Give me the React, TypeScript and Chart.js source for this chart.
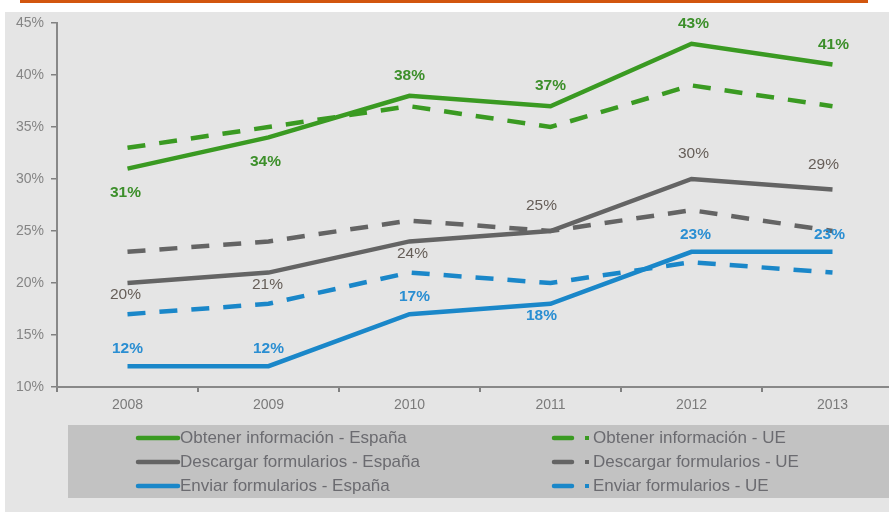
import React, { useEffect, useRef } from "react";
import { Chart, registerables } from "chart.js";

Chart.register(...registerables);

const years = ["2008", "2009", "2010", "2011", "2012", "2013"];
const obtenerEspana = [31, 34, 38, 37, 43, 41];
const obtenerUE = [33, 35, 37, 35, 39, 37];
const descargarEspana = [20, 21, 24, 25, 30, 29];
const descargarUE = [23, 24, 26, 25, 27, 25];
const enviarEspana = [12, 12, 17, 18, 23, 23];
const enviarUE = [17, 18, 21, 20, 22, 21];

const seriesNames = [
  "Obtener información - España",
  "Obtener información - UE",
  "Descargar formularios - España",
  "Descargar formularios - UE",
  "Enviar formularios - España",
  "Enviar formularios - UE",
];

// label placement for the España series: a = above, b = below
const obtenerPlacement = ["b", "b", "a", "a", "a", "a"];
const descargarPlacement = ["b", "b", "b", "a", "a", "a"];
const enviarPlacement = ["a", "a", "a", "b", "a", "a"];

const GREEN = "#3a9a22";
const GRAY = "#646464";
const BLUE = "#1a87c9";
const FONT = "'Liberation Sans', Arial, sans-serif";

type LabelCfg = {
  ds: number;
  place: string[];
  above: number;
  below: number;
  dx: number[];
  color: string;
  weight: string;
};

const labelCfgs: LabelCfg[] = [
  { ds: 0, place: obtenerPlacement, above: -20, below: 24, dx: [-2, -3, 0, 0, 2, 1], color: "#3c8f2a", weight: "bold" },
  { ds: 2, place: descargarPlacement, above: -25, below: 12, dx: [-2, -1, 3, -9, 2, -9], color: "#665e58", weight: "normal" },
  { ds: 4, place: enviarPlacement, above: -17, below: 12, dx: [0, 0, 5, -9, 4, -3], color: "#2a8ed2", weight: "bold" },
];

const bgPlugin = {
  id: "bgPanel",
  beforeDraw(chart: any) {
    const { ctx, width, height } = chart;
    ctx.save();
    ctx.fillStyle = "#ffffff";
    ctx.fillRect(0, 0, width, height);
    ctx.fillStyle = "#e5e5e5";
    ctx.fillRect(5, 12, width - 5, height - 12);
    ctx.fillStyle = "#d2560e";
    ctx.fillRect(20, 0, 848, 3);
    ctx.fillStyle = "#c2c2c2";
    ctx.fillRect(68, 425, width - 68, 73);
    ctx.restore();
  },
};

const valueLabelPlugin = {
  id: "valueLabels",
  afterDatasetsDraw(chart: any) {
    const { ctx } = chart;
    const xs = chart.scales.x;
    const ys = chart.scales.y;
    ctx.save();
    ctx.textAlign = "center";
    ctx.textBaseline = "middle";
    labelCfgs.forEach((cfg) => {
      const data = chart.data.datasets[cfg.ds].data as number[];
      ctx.fillStyle = cfg.color;
      ctx.font = `${cfg.weight} 15.5px ${FONT}`;
      data.forEach((v, i) => {
        const px = xs.getPixelForValue(i) + cfg.dx[i];
        const py = ys.getPixelForValue(v) + (cfg.place[i] === "a" ? cfg.above : cfg.below);
        ctx.fillText(`${v}%`, px, py);
      });
    });
    ctx.restore();
  },
};

const legendPlugin = {
  id: "customLegend",
  afterDraw(chart: any) {
    const { ctx } = chart;
    const rows = [438, 462, 486];
    ctx.save();
    ctx.font = `17px ${FONT}`;
    ctx.textBaseline = "middle";
    ctx.textAlign = "left";
    for (let r = 0; r < 3; r++) {
      const solid = chart.data.datasets[r * 2];
      const dashed = chart.data.datasets[r * 2 + 1];
      const y = rows[r];
      ctx.strokeStyle = solid.borderColor;
      ctx.lineWidth = 4.5;
      ctx.lineCap = "round";
      ctx.beginPath();
      ctx.moveTo(138, y);
      ctx.lineTo(178, y);
      ctx.stroke();
      ctx.fillStyle = "#6b6b70";
      ctx.fillText(solid.label, 180, y);
      ctx.strokeStyle = dashed.borderColor;
      ctx.beginPath();
      ctx.moveTo(554, y);
      ctx.lineTo(572, y);
      ctx.stroke();
      ctx.fillStyle = dashed.borderColor;
      ctx.fillRect(585, y - 2, 4, 4);
      ctx.fillStyle = "#6b6b70";
      ctx.fillText(dashed.label, 593, y);
    }
    ctx.restore();
  },
};

export default function App() {
  const ref = useRef<HTMLCanvasElement | null>(null);

  useEffect(() => {
    document.body.style.margin = "0";
    if (!ref.current) return;
    const dash = [18, 14];
    const mk = (label: string, data: number[], color: string, dashed: boolean) => ({
      label,
      data,
      borderColor: color,
      backgroundColor: color,
      borderWidth: 4.5,
      borderDash: dashed ? dash : [],
      borderCapStyle: "butt" as const,
      pointRadius: 0,
      pointHoverRadius: 0,
      tension: 0,
      fill: false,
    });
    const chart = new Chart(ref.current, {
      type: "line",
      data: {
        labels: years,
        datasets: [
          mk(seriesNames[0], obtenerEspana, GREEN, false),
          mk(seriesNames[1], obtenerUE, GREEN, true),
          mk(seriesNames[2], descargarEspana, GRAY, false),
          mk(seriesNames[3], descargarUE, GRAY, true),
          mk(seriesNames[4], enviarEspana, BLUE, false),
          mk(seriesNames[5], enviarUE, BLUE, true),
        ],
      },
      options: {
        responsive: false,
        animation: false,
        layout: { padding: { top: 23, right: 7, left: 0, bottom: 0 } },
        plugins: {
          legend: { display: false },
          tooltip: { enabled: false },
        },
        scales: {
          x: {
            offset: true,
            grid: {
              offset: true,
              drawOnChartArea: false,
              drawTicks: true,
              tickLength: 5,
              color: "#808080",
              lineWidth: 2,
            },
            border: { color: "#888888", width: 2 },
            ticks: {
              color: "#7a7a7a",
              font: { family: FONT, size: 14 },
              padding: 5,
              maxRotation: 0,
            },
            afterFit: (s: any) => {
              s.height = 125;
            },
          },
          y: {
            min: 10,
            max: 45,
            ticks: {
              stepSize: 5,
              color: "#858585",
              font: { family: FONT, size: 14 },
              padding: 7,
              callback: (v: any) => `${v}%`,
            },
            grid: {
              drawOnChartArea: false,
              drawTicks: true,
              tickLength: 6,
              color: "#808080",
              lineWidth: 1.5,
            },
            border: { color: "#888888", width: 2 },
            afterFit: (s: any) => {
              s.width = 57;
            },
          },
        },
      },
      plugins: [bgPlugin, valueLabelPlugin, legendPlugin],
    });
    return () => chart.destroy();
  }, []);

  return (
    <div style={{ width: 889, height: 512, overflow: "hidden", position: "relative" }}>
      <canvas ref={ref} width={910} height={512} style={{ display: "block" }} />
    </div>
  );
}
